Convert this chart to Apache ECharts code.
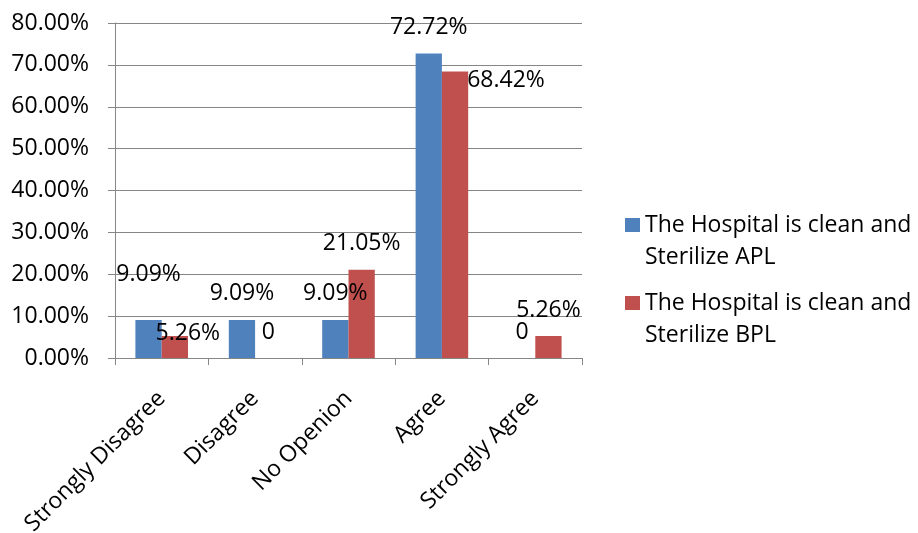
<!DOCTYPE html>
<html>
<head>
<meta charset="utf-8">
<script src="https://cdn.jsdelivr.net/npm/echarts@6/dist/echarts.min.js"></script>
<style>
html,body{margin:0;padding:0;background:#fff;}
#chart{width:918px;height:533px;}
</style>
</head>
<body>
<div id="chart"></div>
<script>
const categories = ['Strongly Disagree', 'Disagree', 'No Openion', 'Agree', 'Strongly Agree'];
const seriesNames = ['The Hospital is clean and Sterilize APL', 'The Hospital is clean and Sterilize BPL'];
const valuesAPL = [9.09, 9.09, 9.09, 72.72, 0];
const valuesBPL = [5.26, 0, 21.05, 68.42, 5.26];
const yTicks = [0, 10, 20, 30, 40, 50, 60, 70, 80];

const FONT = 'Open Sans';
const FS = 23;
const colors = ['#4F81BD', '#C0504D'];

function fmtLabel(v) { return v === 0 ? '0' : v.toFixed(2) + '%'; }

// manual label nudges (Excel chart had moved some labels)
const labelNudge = {
  0: { 0: [0, -19] },
  1: { 0: [13, 23], 3: [51, 35] }
};

function buildData(vals, si) {
  return vals.map((v, i) => {
    const n = labelNudge[si] && labelNudge[si][i];
    return n ? { value: v, label: { offset: n } } : { value: v };
  });
}

function wrapName(name) {
  const idx = name.indexOf('Sterilize');
  return '\n' + name.slice(0, idx).trim() + '\n' + name.slice(idx);
}

const chart = echarts.init(document.getElementById('chart'));
const labelCommon = {
  show: true,
  position: 'top',
  distance: 15,
  color: '#000',
  fontFamily: FONT,
  fontSize: FS,
  lineHeight: 22,
  formatter: p => fmtLabel(p.value)
};

chart.setOption({
  animation: false,
  backgroundColor: '#fff',
  textStyle: { fontFamily: FONT },
  grid: { left: 115, top: 23, width: 467, height: 335, containLabel: false, outerBoundsMode: 'none' },
  legend: [0, 1].map(k => ({
    data: [seriesNames[k]],
    orient: 'vertical',
    left: 625,
    top: k === 0 ? 177 : 255,
    padding: 0,
    itemWidth: 15,
    itemHeight: 14,
    itemGap: 0,
    icon: 'rect',
    selectedMode: false,
    formatter: wrapName,
    textStyle: { fontFamily: FONT, fontSize: FS, color: '#000', lineHeight: 32 }
  })),
  xAxis: {
    type: 'category',
    data: categories,
    axisLine: { lineStyle: { color: '#868686', width: 1 } },
    axisTick: { show: true, length: 7, lineStyle: { color: '#868686' } },
    axisLabel: { rotate: 45, margin: 37, color: '#000', fontFamily: FONT, fontSize: FS, interval: 0 }
  },
  yAxis: {
    type: 'value',
    min: yTicks[0],
    max: yTicks[yTicks.length - 1],
    interval: yTicks[1] - yTicks[0],
    axisLine: { show: true, lineStyle: { color: '#868686', width: 1 } },
    axisTick: { show: true, length: 7, lineStyle: { color: '#868686' } },
    splitLine: { show: true, lineStyle: { color: '#868686', width: 1 } },
    axisLabel: { margin: 26, color: '#000', fontFamily: FONT, fontSize: FS, formatter: v => v.toFixed(2) + '%' }
  },
  series: [
    {
      name: seriesNames[0], type: 'bar', data: buildData(valuesAPL, 0),
      itemStyle: { color: colors[0] }, barGap: '0%', barCategoryGap: '43.7%',
      label: labelCommon
    },
    {
      name: seriesNames[1], type: 'bar', data: buildData(valuesBPL, 1),
      itemStyle: { color: colors[1] }, barGap: '0%', barCategoryGap: '43.7%',
      label: labelCommon
    }
  ]
});
</script>
</body>
</html>
